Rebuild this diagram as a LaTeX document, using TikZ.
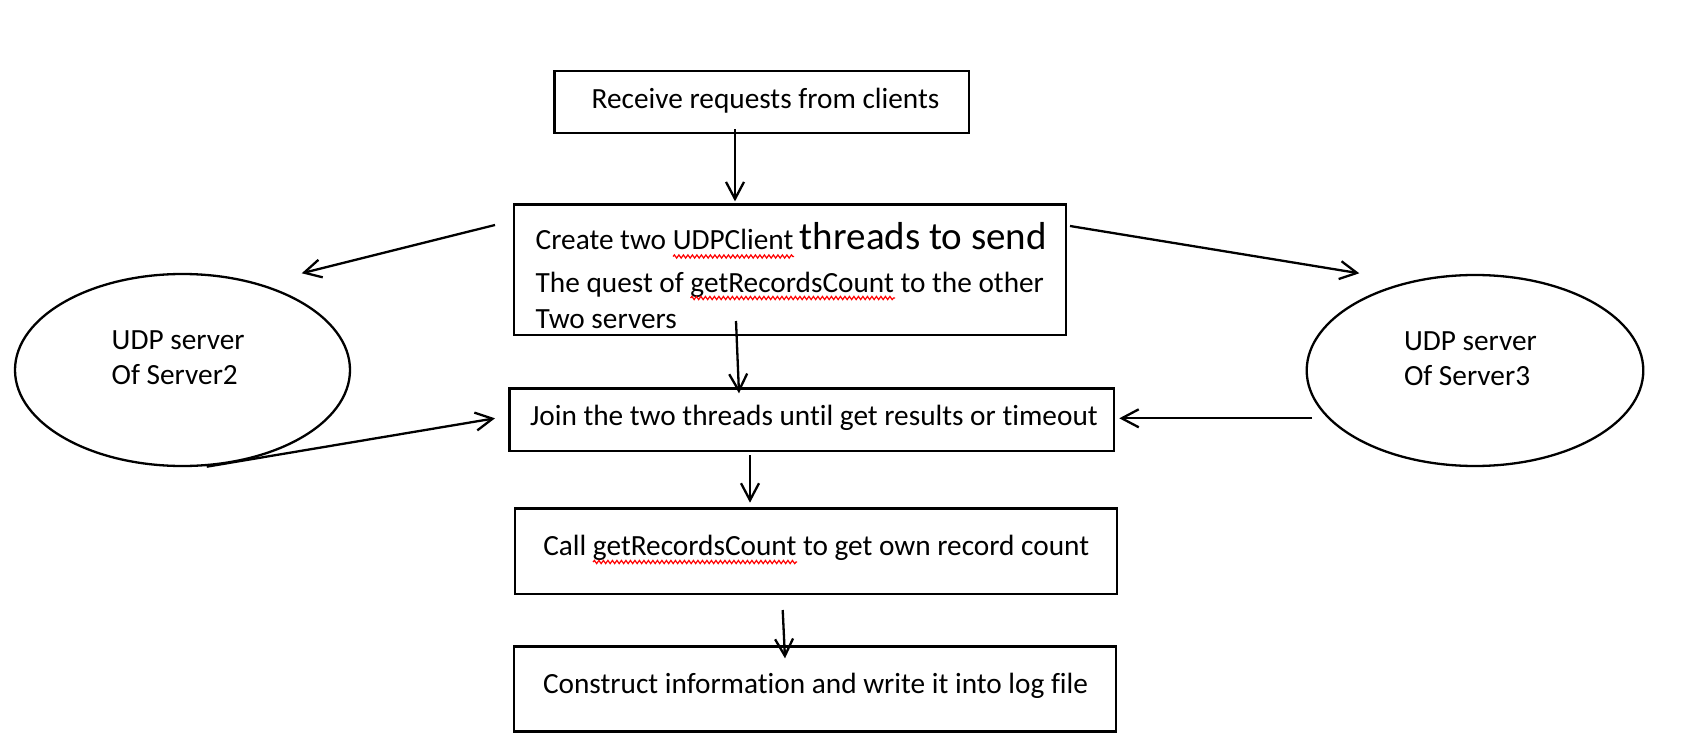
\documentclass[tikz,border=0pt]{standalone}
\usepackage{fontspec}
\setmainfont{Carlito}[Ligatures=NoCommon]
\usetikzlibrary{arrows.meta,shapes.geometric,decorations.pathmorphing}
\begin{document}
\begin{tikzpicture}[x=1pt,y=-1pt,
  boxnode/.style={draw=black,line width=2.9pt,rectangle,inner sep=0pt,outer sep=0pt},
  ellnode/.style={draw=black,line width=2.3pt,ellipse,inner sep=0pt,outer sep=0pt},
  txt/.style={inner sep=0pt,outer sep=0pt,anchor=base west,font=\fontsize{29.3}{35}\selectfont},
  arr/.style={line width=2.3pt,-{Straight Barb[length=17pt,width=18pt]}},
  squig/.style={draw=red,line width=1.2pt,decorate,decoration={snake,amplitude=1.6pt,segment length=4.5pt}}]
\useasboundingbox (0,0) rectangle (1690,754);
\fill[white] (0,0) rectangle (1690,754);

% boxes
\node[boxnode,minimum width=414.7pt,minimum height=62pt] (b1) at (761.65,102) {};
\node[boxnode,minimum width=552pt,minimum height=130.7pt] (b2) at (790,269.65) {};
\node[boxnode,minimum width=604.7pt,minimum height=62.7pt] (b3) at (811.65,419.65) {};
\node[boxnode,minimum width=602pt,minimum height=85.7pt] (b4) at (816,551.15) {};
\node[boxnode,minimum width=602pt,minimum height=85pt] (b5) at (815,689.2) {};

% ellipses
\node[ellnode,minimum width=335pt,minimum height=192pt] (e1) at (182.5,370) {};
\node[ellnode,minimum width=336.6pt,minimum height=191pt] (e2) at (1475,370.5) {};

% texts
\node[txt] (t1) at (591.7,109) {Receive requests from clients};
\node[txt] (t2a) at (535.7,250) {Create two UDPClient {\fontsize{39}{47}\selectfont threads to send}};
\node[txt] (t2b) at (535.7,292.3) {The quest of getRecordsCount to the other};
\node[txt] (t2c) at (535.7,328.3) {Two servers};
\node[txt] (t3) at (530,425) {Join the two threads until get results or timeout};
\node[txt] (t4) at (543.3,555) {Call getRecordsCount to get own record count};
\node[txt] (t5) at (543,693.3) {Construct information and write it into log file};
\node[txt] (te1a) at (111.7,349.3) {UDP server};
\node[txt] (te1b) at (111.7,384) {Of Server2};
\node[txt] (te2a) at (1404,350) {UDP server};
\node[txt] (te2b) at (1404,385) {Of Server3};

% spell-check squiggles
\draw[squig] (673,256.5) -- (794,256.5);
\draw[squig] (690.5,298) -- (895,298);
\draw[squig] (593,562) -- (797,562);

% connector end points
\coordinate (p1s) at (735,129.3);  \coordinate (p1e) at (735,201.4);
\coordinate (p2s) at (736,321);    \coordinate (p2e) at (739,393.3);
\coordinate (p3s) at (750,455);    \coordinate (p3e) at (750,502.7);
\coordinate (p4s) at (782.7,610);  \coordinate (p4e) at (785,658.3);
\coordinate (l1s) at (495,225);    \coordinate (l1e) at (301.7,273.3);
\coordinate (l2s) at (206.7,466.7);\coordinate (l2e) at (495,418.3);
\coordinate (r1s) at (1070,226);   \coordinate (r1e) at (1359.3,273.3);
\coordinate (r2s) at (1312,418.3); \coordinate (r2e) at (1119.3,418.3);

\draw[arr] (p1s) -- (p1e);
\draw[arr] (p2s) -- (p2e);
\draw[arr] (p3s) -- (p3e);
\draw[arr] (p4s) -- (p4e);
\draw[arr] (l1s) -- (l1e);
\draw[arr] (l2s) -- (l2e);
\draw[arr] (r1s) -- (r1e);
\draw[arr] (r2s) -- (r2e);
\end{tikzpicture}
\end{document}
